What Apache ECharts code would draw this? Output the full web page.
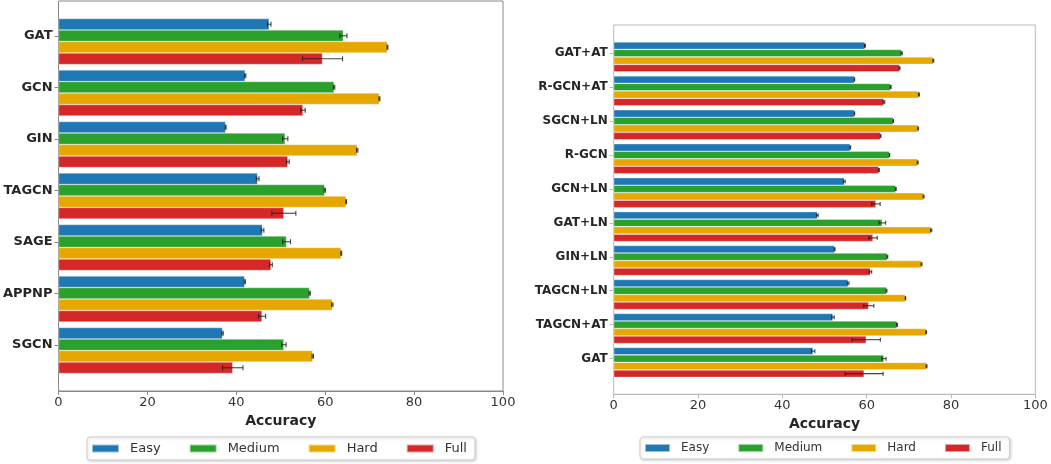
<!DOCTYPE html>
<html>
<head>
<meta charset="utf-8">
<script src="https://cdn.jsdelivr.net/npm/echarts@6/dist/echarts.min.js"></script>
<style>html,body{margin:0;padding:0;background:#fff}#chart{width:1051px;height:464px}</style>
</head>
<body>
<div id="chart"></div>
<script>
// levels + colours
var levels = ['Easy', 'Medium', 'Hard', 'Full'];
var colors = ['#1f77b4', '#2ca02c', '#e6a800', '#d62728'];
var ticks = [0, 20, 40, 60, 80, 100];

// left panel: base models
var leftModels = ['GAT', 'GCN', 'GIN', 'TAGCN', 'SAGE', 'APPNP', 'SGCN'];
var leftEasy   = [47.4, 42.0, 37.6, 44.8, 45.9, 41.9, 36.9];
var leftMedium = [64.1, 62.0, 51.0, 59.9, 51.3, 56.5, 50.7];
var leftHard   = [74.0, 72.2, 67.2, 64.7, 63.6, 61.6, 57.2];
var leftFull   = [59.4, 55.0, 51.6, 50.7, 47.8, 45.8, 39.2];
var leftEasyErr   = [0.4, 0.15, 0.1, 0.3, 0.3, 0.15, 0.15];
var leftMediumErr = [0.8, 0.15, 0.6, 0.15, 0.9, 0.15, 0.5];
var leftHardErr   = [0.1, 0.1, 0.15, 0.1, 0.1, 0.15, 0.15];
var leftFullErr   = [4.5, 0.5, 0.3, 2.7, 0.3, 0.8, 2.3];

// right panel: variants
var rightModels = ['GAT+AT', 'R-GCN+AT', 'SGCN+LN', 'R-GCN', 'GCN+LN', 'GAT+LN', 'GIN+LN', 'TAGCN+LN', 'TAGCN+AT', 'GAT'];
var rightEasy   = [59.6, 57.1, 57.1, 56.1, 54.7, 48.3, 52.4, 55.6, 52.0, 47.3];
var rightMedium = [68.3, 65.7, 66.3, 65.4, 66.9, 63.7, 64.9, 64.7, 67.2, 64.1];
var rightHard   = [75.8, 72.4, 72.2, 72.1, 73.5, 75.3, 73.0, 69.2, 74.1, 74.2];
var rightFull   = [67.8, 64.1, 63.3, 62.9, 62.2, 61.5, 60.9, 60.5, 59.9, 59.4];
var rightEasyErr   = [0.1, 0.05, 0.05, 0.1, 0.2, 0.2, 0.1, 0.2, 0.3, 0.4];
var rightMediumErr = [0.15, 0.1, 0.05, 0.05, 0.1, 0.8, 0.1, 0.1, 0.1, 0.5];
var rightHardErr   = [0.1, 0.1, 0.05, 0.1, 0.1, 0.15, 0.1, 0.05, 0.1, 0.1];
var rightFullErr   = [0.1, 0.2, 0.1, 0.1, 1.0, 1.0, 0.3, 1.2, 3.35, 4.5];

var FONT = '"DejaVu Sans", sans-serif';
var grids = [], xAxes = [], yAxes = [], series = [], legends = [];

function panel(c, p) {
  var g0 = grids.length;
  var n = p.cats.length;
  var inner = n * p.step;
  var pad = (p.height - inner) / 2;
  var barH = p.step * (1 - p.gap) / 4;

  // frame + x axis
  grids.push({left: p.left, top: p.top, width: p.width, height: p.height, show: true,
    borderColor: p.frame, borderWidth: 1, containLabel: false});
  xAxes.push({gridIndex: g0, type: 'value', min: 0, max: 100, interval: 20,
    axisLine: {lineStyle: {color: p.frame}}, axisTick: {show: true, length: 4, lineStyle: {color: p.frame}},
    splitLine: {show: false},
    axisLabel: {fontFamily: FONT, fontSize: 13, color: '#333', margin: 5},
    name: 'Accuracy', nameLocation: 'middle', nameGap: 19,
    nameTextStyle: {fontFamily: FONT, fontSize: 14, fontWeight: 'bold', color: '#262626', verticalAlign: 'top'}});
  yAxes.push({gridIndex: g0, type: 'value', show: false});

  // bars grid
  grids.push({left: p.left, top: p.top + pad, width: p.width, height: inner});
  xAxes.push({gridIndex: g0 + 1, type: 'value', min: 0, max: 100, show: false});
  yAxes.push({gridIndex: g0 + 1, type: 'category', data: p.cats, inverse: true, show: false});

  // label grid, ticks sit on second bar of each group
  grids.push({left: p.left, top: p.top + pad - barH / 2, width: p.width, height: inner});
  xAxes.push({gridIndex: g0 + 2, type: 'value', min: 0, max: 100, show: false});
  yAxes.push({gridIndex: g0 + 2, type: 'category', data: p.cats, inverse: true,
    axisLine: {show: false}, axisTick: {show: true, alignWithLabel: true, length: 4, lineStyle: {color: p.frame}},
    axisLabel: {fontFamily: FONT, fontSize: p.labelSize, fontWeight: 'bold', color: '#262626', margin: 6}});

  p.vals.forEach(function (vals, k) {
    series.push({type: 'bar', name: levels[k], xAxisIndex: g0 + 1, yAxisIndex: g0 + 1,
      data: vals, barGap: '0%', barCategoryGap: (p.gap * 100) + '%',
      itemStyle: {color: colors[k], borderColor: 'rgba(255,255,255,0.55)', borderWidth: 0.6},
      silent: true});
  });
  p.vals.forEach(function (vals, k) {
    series.push({type: 'custom', name: 'err' + c + k, xAxisIndex: g0 + 1, yAxisIndex: g0 + 1, z: 5,
      data: vals.map(function (v, i) { return [v, i, p.errs[k][i]]; }),
      encode: {x: 0, y: 1},
      renderItem: function (params, api) {
        var v = api.value(0), i = api.value(1), e = api.value(2);
        var mid = api.coord([v, i]);
        var band = api.size([0, 1])[1];
        var bh = band * (1 - p.gap) / 4;
        var y = mid[1] + (k - 1.5) * bh;
        var a = api.coord([v - e, i])[0], b = api.coord([v + e, i])[0];
        var h = p.cap / 2;
        var st = {stroke: '#222', lineWidth: 1.1, opacity: 0.85};
        return {type: 'group', children: [
          {type: 'line', shape: {x1: a, y1: y, x2: b, y2: y}, style: st},
          {type: 'line', shape: {x1: a, y1: y - h, x2: a, y2: y + h}, style: st},
          {type: 'line', shape: {x1: b, y1: y - h, x2: b, y2: y + h}, style: st}
        ]};
      }});
  });

  legends.push({data: levels, left: p.legendLeft, top: 437, orient: 'horizontal',
    itemWidth: p.swatch, itemHeight: 8, itemGap: p.itemGap, icon: 'rect',
    backgroundColor: '#fff', borderColor: '#cfcfcf', borderWidth: 1, borderRadius: 3,
    padding: [5, 8, 5, 4], shadowColor: 'rgba(0,0,0,0.18)', shadowBlur: 3, shadowOffsetX: 1, shadowOffsetY: 1,
    selectedMode: false,
    textStyle: {fontFamily: FONT, fontSize: p.legendSize, color: '#333', padding: [0, 0, 0, 6]}});
}

panel(0, {left: 58.5, top: 1, width: 444.5, height: 390, step: 51.5, gap: 0.107, cap: 5,
  frame: '#888', labelSize: 13, cats: leftModels,
  vals: [leftEasy, leftMedium, leftHard, leftFull],
  errs: [leftEasyErr, leftMediumErr, leftHardErr, leftFullErr],
  legendLeft: 87, swatch: 27, itemGap: 28, legendSize: 13});

panel(1, {left: 613.7, top: 25, width: 421.6, height: 369.3, step: 33.94, gap: 0.116, cap: 4,
  frame: '#b8b8b8', labelSize: 12, cats: rightModels,
  vals: [rightEasy, rightMedium, rightHard, rightFull],
  errs: [rightEasyErr, rightMediumErr, rightHardErr, rightFullErr],
  legendLeft: 640, swatch: 25, itemGap: 28, legendSize: 12});

var chart = echarts.init(document.getElementById('chart'), null, {renderer: 'canvas'});
chart.setOption({
  backgroundColor: '#fff',
  animation: false,
  grid: grids,
  xAxis: xAxes,
  yAxis: yAxes,
  legend: legends,
  series: series
});
</script>
</body>
</html>
